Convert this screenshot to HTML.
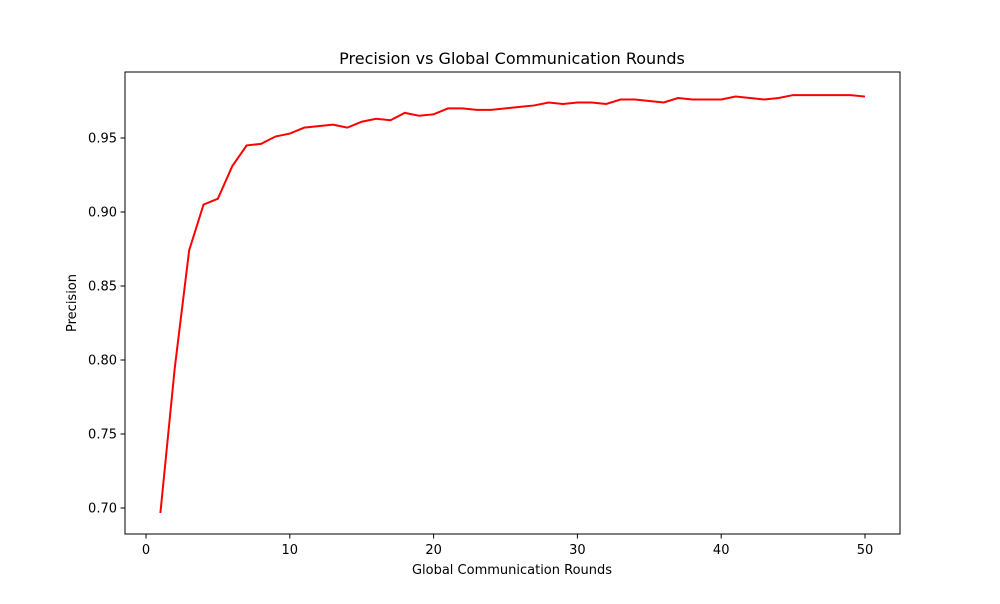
<!DOCTYPE html>
<html><head><meta charset="utf-8"><style>
body{margin:0;background:#fff;font-family:"DejaVu Sans","Liberation Sans",sans-serif;}
svg text{font-family:"DejaVu Sans","Liberation Sans",sans-serif;fill:#000;}
</style></head><body>
<svg id="chart" width="1000" height="600" xmlns="http://www.w3.org/2000/svg">
<rect width="1000" height="600" fill="#fff"/>
<text x="512" y="64" font-size="16" text-anchor="middle">Precision vs Global Communication Rounds</text>
<g id="xticks"></g><g id="yticks"></g>
<polyline id="line" fill="none" stroke="#ff0000" stroke-width="2"/>
<rect x="125" y="72" width="775" height="462" fill="none" stroke="#000" stroke-width="1"/>
<text x="512" y="574" font-size="13" text-anchor="middle">Global Communication Rounds</text>
<text x="0" y="0" font-size="13" text-anchor="middle" transform="translate(76,303) rotate(-90)">Precision</text>
</svg>
<script>
const rounds = [1,2,3,4,5,6,7,8,9,10,11,12,13,14,15,16,17,18,19,20,21,22,23,24,25,26,27,28,29,30,31,32,33,34,35,36,37,38,39,40,41,42,43,44,45,46,47,48,49,50];
const precision = [0.6966,0.7946,0.874,0.905,0.909,0.931,0.945,0.946,0.951,0.953,0.957,0.958,0.959,0.957,0.961,0.963,0.962,0.967,0.965,0.966,0.970,0.970,0.969,0.969,0.970,0.971,0.972,0.974,0.973,0.974,0.974,0.973,0.976,0.976,0.975,0.974,0.977,0.976,0.976,0.976,0.978,0.977,0.976,0.977,0.979,0.979,0.979,0.979,0.979,0.978];
const xTickValues = [0,10,20,30,40,50];
const yTickValues = [0.70,0.75,0.80,0.85,0.90,0.95];
const yTickLabels = ["0.70","0.75","0.80","0.85","0.90","0.95"];
const NS="http://www.w3.org/2000/svg";
function xs(v){return 146+(v-0)*(865-146)/50;}
function ys(v){return 508-(v-0.70)*(370/0.25);}
const line=document.getElementById('line');
line.setAttribute('points',rounds.map((r,i)=>xs(r)+','+ys(precision[i])).join(' '));
const xg=document.getElementById('xticks');
xTickValues.forEach(v=>{
  const t=document.createElementNS(NS,'line');
  
  
  t.setAttribute('x1',xs(v));t.setAttribute('x2',xs(v));t.setAttribute('y1',534);t.setAttribute('y2',538.5);t.setAttribute('stroke','#000');
  xg.appendChild(t);
  const l=document.createElementNS(NS,'text');
  
  
  l.setAttribute('x',xs(v));l.setAttribute('y',554);l.setAttribute('font-size','13');l.setAttribute('text-anchor','middle');
  l.textContent=v;xg.appendChild(l);
});
const yg=document.getElementById('yticks');
yTickValues.forEach((v,i)=>{
  const t=document.createElementNS(NS,'line');
  
  
  t.setAttribute('x1',120.5);t.setAttribute('x2',125);t.setAttribute('y1',ys(v));t.setAttribute('y2',ys(v));t.setAttribute('stroke','#000');
  yg.appendChild(t);
  const l=document.createElementNS(NS,'text');
  
  
  l.setAttribute('x',117);l.setAttribute('y',ys(v)+4.5);l.setAttribute('font-size','13');l.setAttribute('text-anchor','end');
  l.textContent=yTickLabels[i];yg.appendChild(l);
});
</script>
</body></html>
